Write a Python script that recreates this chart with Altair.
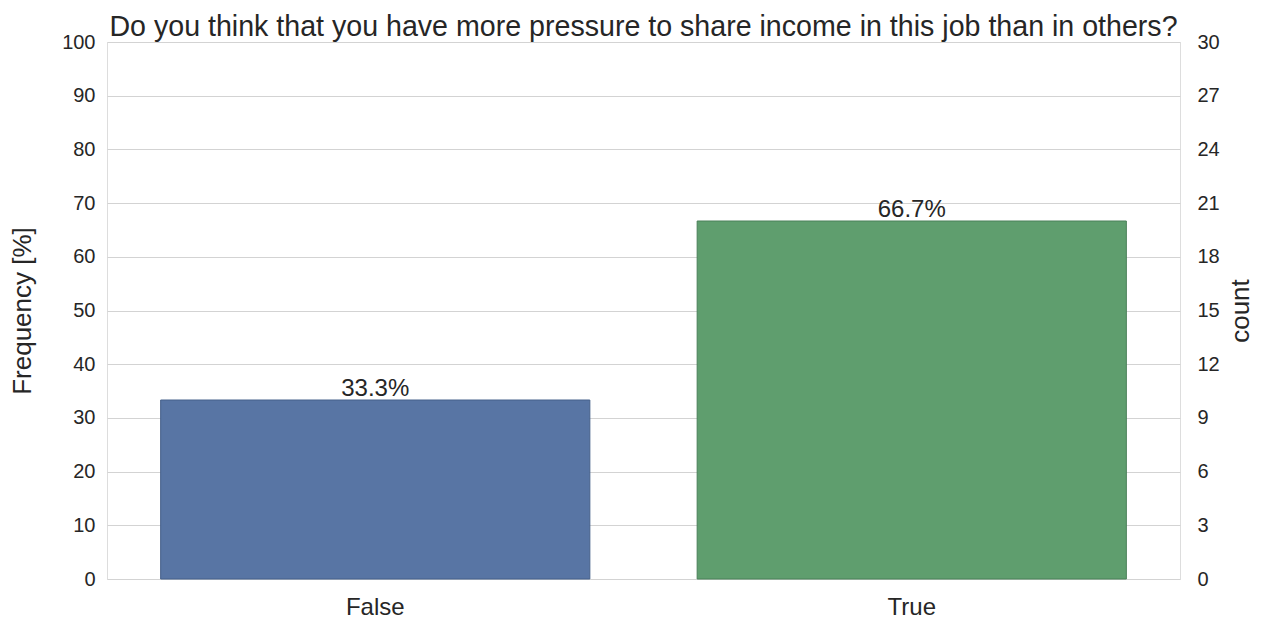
import altair as alt
import pandas as pd

categories = ["False", "True"]
counts = [10, 20]
colors = ["#5875a4", "#5f9e6e"]
edge_colors = ["#45608a", "#4a8059"]
pct_ticks = [0, 10, 20, 30, 40, 50, 60, 70, 80, 90, 100]
count_ticks = [0, 3, 6, 9, 12, 15, 18, 21, 24, 27, 30]
title_text = "Do you think that you have more pressure to share income in this job than in others?"

df = pd.DataFrame({"answer": categories, "count": counts, "color": colors, "edge": edge_colors})

FONT = "Liberation Sans"
TXT = "#262626"

base = alt.Chart(df).transform_joinaggregate(
    total="sum(count)"
).transform_calculate(
    pct="datum.count / datum.total * 100",
    label="format(datum.count / datum.total * 100, '.1f') + '%'"
)

x_enc = alt.X(
    "answer:N",
    sort=categories,
    scale=alt.Scale(paddingInner=0.2, paddingOuter=0.1),
    axis=alt.Axis(title=None, labelAngle=0, labelFontSize=24, labelFont=FONT,
                  labelColor=TXT, labelPadding=16, ticks=False, domain=False, grid=False),
)

y_pct = alt.Y(
    "pct:Q",
    scale=alt.Scale(domain=[0, 100], nice=False),
    axis=alt.Axis(title="Frequency [%]", values=pct_ticks, grid=True, gridColor="#d3d3d3",
                  gridWidth=1.2, ticks=False, domain=False, labelFontSize=20, labelFont=FONT,
                  labelColor=TXT, labelPadding=12, titleFontSize=26, titleFont=FONT,
                  titleColor=TXT, titleFontWeight="normal", titlePadding=26),
)

bars = base.mark_bar(strokeWidth=1).encode(
    x=x_enc,
    y=y_pct,
    color=alt.Color("color:N", scale=None),
    stroke=alt.Stroke("edge:N", scale=None),
)

labels = base.mark_text(baseline="alphabetic", dy=-4, fontSize=24, font=FONT, color=TXT).encode(
    x=alt.X("answer:N", sort=categories),
    y=alt.Y("pct:Q"),
    text="label:N",
)

left = alt.layer(bars, labels)

right = base.mark_point(opacity=0).encode(
    x=alt.X("answer:N", sort=categories),
    y=alt.Y(
        "count:Q",
        scale=alt.Scale(domain=[0, 30], nice=False),
        axis=alt.Axis(title="count", orient="right", values=count_ticks, grid=False,
                      ticks=False, domain=False, labelFontSize=20, labelFont=FONT,
                      labelColor=TXT, labelPadding=17, titleFontSize=26, titleFont=FONT,
                      titleColor=TXT, titleFontWeight="normal", titleAngle=270, titlePadding=34),
    ),
)

chart = alt.layer(left, right).resolve_scale(y="independent").properties(
    width=1073,
    height=537,
    title=alt.TitleParams(title_text, fontSize=28.6, font=FONT, color=TXT,
                          fontWeight="normal", anchor="middle", offset=3, frame="group", dy=13),
    autosize=alt.AutoSizeParams(type="none"),
    padding={"left": 99, "top": 34, "right": 77, "bottom": 45},
).configure_view(
    stroke="#cccccc", strokeWidth=2.2
).configure(background="white")

chart.save("out.html", embed_options={"renderer": "svg", "actions": False})
